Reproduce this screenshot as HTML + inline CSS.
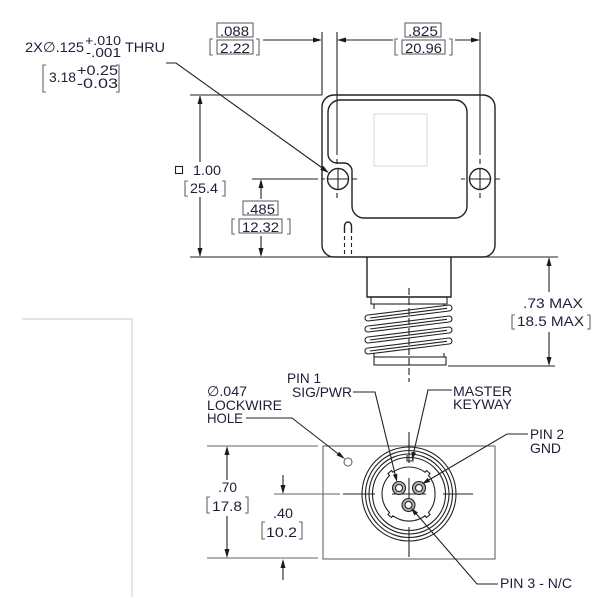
<!DOCTYPE html>
<html>
<head>
<meta charset="utf-8">
<style>
  html,body{margin:0;padding:0;background:#fff;}
  svg{display:block;}
  text{font-family:"Liberation Sans",Arial,sans-serif;font-size:14px;fill:#1c1f38;}
  .s{font-size:12.5px;}
  .ln{stroke:#222;stroke-width:1.4;fill:none;}
  .th{stroke:#222;stroke-width:1.1;fill:none;}
  .gr{stroke:#666;stroke-width:1.1;fill:none;}
  .lg{stroke:#d4d4d4;stroke-width:1.2;fill:none;}
  .ar{fill:#1a1a1a;stroke:none;}
  .bx{stroke:#555;stroke-width:1;fill:none;}
</style>
</head>
<body>
<svg width="611" height="600" viewBox="0 0 611 600" xmlns="http://www.w3.org/2000/svg">

<!-- faint left frame -->
<path class="lg" d="M22,319 H132 V597"/>

<!-- ===== TOP-LEFT HOLE CALLOUT ===== -->
<text x="25" y="52" textLength="59" lengthAdjust="spacingAndGlyphs">2X∅.125</text>
<text class="s" x="85" y="45" textLength="36" lengthAdjust="spacingAndGlyphs">+.010</text>
<text class="s" x="86" y="57" textLength="35" lengthAdjust="spacingAndGlyphs">-.001</text>
<text x="125" y="52" textLength="40" lengthAdjust="spacingAndGlyphs">THRU</text>
<path class="gr" d="M46,65 H43 V92 H46 M116,65 H119 V92 H116"/>
<text x="49" y="82" textLength="27" lengthAdjust="spacingAndGlyphs">3.18</text>
<text x="77" y="75" textLength="41" lengthAdjust="spacingAndGlyphs">+0.25</text>
<text x="77" y="88" textLength="41" lengthAdjust="spacingAndGlyphs">-0.03</text>
<!-- leader to hole -->
<path class="th" d="M166,63 H176 L323,168.5"/>
<polygon class="ar" points="329,173 320.2,169.7 323.2,165.7"/>

<!-- ===== TOP DIMENSIONS ===== -->
<rect class="bx" x="217" y="23" width="36" height="14"/>
<text x="220" y="36" textLength="29" lengthAdjust="spacingAndGlyphs">.088</text>
<path class="gr" d="M213,39 H210 V55 H213 M256,39 H259 V55 H256"/>
<rect class="bx" x="217" y="40" width="36" height="14"/>
<text x="220" y="53" textLength="30" lengthAdjust="spacingAndGlyphs">2.22</text>

<rect class="bx" x="405" y="23" width="36" height="14"/>
<text x="408" y="36" textLength="30" lengthAdjust="spacingAndGlyphs">.825</text>
<path class="gr" d="M398,39 H395 V55 H398 M449,39 H452 V55 H449"/>
<rect class="bx" x="402" y="40" width="43" height="14"/>
<text x="405" y="53" textLength="37" lengthAdjust="spacingAndGlyphs">20.96</text>

<path class="th" d="M263,40 H320 M339,40 H393 M455,40 H478"/>
<polygon class="ar" points="322,40 313,37.5 313,42.5"/>
<polygon class="ar" points="337,40 346,37.5 346,42.5"/>
<polygon class="ar" points="480,40 471,37.5 471,42.5"/>
<!-- extension lines -->
<path class="th" d="M322,32 V95 M337,32 V155 M480,32 V155"/>

<!-- ===== BODY (top view) ===== -->
<path class="th" d="M190,95 H322 M190,257 H558"/>
<rect class="ln" x="322" y="95" width="173" height="162" rx="12" ry="12"/>
<path class="ln" d="M328,112 A12,12 0 0 1 340,100 H455 A12,12 0 0 1 467,112 V206 A12,12 0 0 1 455,218 H364 A12,12 0 0 1 352,206 V171 A8,8 0 0 0 344,163 H337 A9,9 0 0 1 328,154 Z"/>
<rect x="374" y="114" width="53" height="52" fill="none" stroke="#d8d8d8" stroke-width="1"/>

<!-- holes -->
<circle class="ln" cx="338" cy="179" r="10.5"/>
<path class="th" d="M328,179 H348 M338,169 V189"/>
<circle class="ln" cx="480" cy="179" r="10.5"/>
<path class="th" d="M470,179 H490 M480,169 V189"/>
<!-- center dashes -->
<path class="th" d="M337,159 V164 M337,193 V198 M321,179 H325 M352,179 H357 M480,159 V164 M480,193 V198 M461,179 H465 M495,179 H500"/>

<!-- slot -->
<path class="ln" d="M344.5,233 V226 A3.5,4 0 0 1 351.5,226 V233"/>
<path class="th" stroke-dasharray="4,3" d="M344.5,236 V257 M351.5,236 V257"/>

<!-- 1.00 dimension -->
<path class="th" d="M200,97 V162 M200,197 V255"/>
<polygon class="ar" points="200,95 197.5,104 202.5,104"/>
<polygon class="ar" points="200,257 197.5,248 202.5,248"/>
<rect x="175.5" y="166.5" width="7" height="7" fill="none" stroke="#222" stroke-width="1.1"/>
<text x="193" y="175" textLength="28" lengthAdjust="spacingAndGlyphs">1.00</text>
<path class="gr" d="M188,181 H185 V196 H188 M222,181 H225 V196 H222"/>
<text x="190" y="193" textLength="28" lengthAdjust="spacingAndGlyphs">25.4</text>

<!-- .485 dimension -->
<path class="th" d="M252,179 H318"/>
<path class="th" d="M261,181 V199 M261,236 V255"/>
<polygon class="ar" points="261,179 258.5,188 263.5,188"/>
<polygon class="ar" points="261,257 258.5,248 263.5,248"/>
<rect class="bx" x="243" y="201" width="35" height="14"/>
<text x="246" y="214" textLength="29" lengthAdjust="spacingAndGlyphs">.485</text>
<path class="gr" d="M235,219 H232 V234 H235 M287,219 H290 V234 H287"/>
<rect class="bx" x="239" y="219" width="43" height="14"/>
<text x="242" y="232" textLength="37" lengthAdjust="spacingAndGlyphs">12.32</text>

<!-- ===== CONNECTOR SIDE VIEW ===== -->
<path class="ln" d="M367,257 V297 H451 V257"/>
<rect class="th" x="371" y="297" width="76" height="7"/>
<path class="th" d="M374,304 V309 M444,304 V309 M374,353 V357 M444,353 V357"/>
<rect class="th" x="374" y="357" width="72" height="8"/>
<g fill="#fff" stroke="#222" stroke-width="1.1">
  <path d="M368,315 L449,305 A3,3 0 0 1 449,311 L368,321 A3,3 0 0 1 368,315 Z"/>
  <path d="M368,326 L449,316 A3,3 0 0 1 449,322 L368,332 A3,3 0 0 1 368,326 Z"/>
  <path d="M368,337 L449,327 A3,3 0 0 1 449,333 L368,343 A3,3 0 0 1 368,337 Z"/>
  <path d="M368,348 L449,338 A3,3 0 0 1 449,344 L368,354 A3,3 0 0 1 368,348 Z"/>
</g>
<path class="th" stroke-width="0.8" d="M370,318 L447,308.3 M370,329 L447,319.3 M370,340 L447,330.3 M370,351 L447,341.3"/>
<path class="th" stroke-dasharray="7,3" d="M409,288 V382"/>

<!-- .73 MAX dimension -->
<path class="th" d="M448,366 H555"/>
<path class="th" d="M549,259 V292 M549,332 V364"/>
<polygon class="ar" points="549,257 546.5,266 551.5,266"/>
<polygon class="ar" points="549,366 546.5,357 551.5,357"/>
<text x="523" y="308" textLength="60" lengthAdjust="spacingAndGlyphs">.73 MAX</text>
<path class="gr" d="M515,315 H512 V329 H515 M587,315 H590 V329 H587"/>
<text x="517" y="326" textLength="67" lengthAdjust="spacingAndGlyphs">18.5 MAX</text>

<!-- ===== BOTTOM (face) VIEW ===== -->
<rect class="gr" x="323" y="446" width="172" height="113"/>
<path class="gr" d="M207,446 H318 M207,558 H318 M274,494 H340"/>

<!-- .70 -->
<path class="th" d="M227,448 V480 M227,516 V556"/>
<polygon class="ar" points="227,446 224.5,455 229.5,455"/>
<polygon class="ar" points="227,558 224.5,549 229.5,549"/>
<text x="218" y="492" textLength="19" lengthAdjust="spacingAndGlyphs">.70</text>
<path class="gr" d="M210,497 H207 V513 H210 M245,497 H248 V513 H245"/>
<text x="212" y="511" textLength="30" lengthAdjust="spacingAndGlyphs">17.8</text>

<!-- .40 -->
<path class="th" d="M283,475 V492 M283,561 V580"/>
<polygon class="ar" points="283,494 280.5,485 285.5,485"/>
<polygon class="ar" points="283,559 280.5,568 285.5,568"/>
<text x="273" y="518" textLength="20" lengthAdjust="spacingAndGlyphs">.40</text>
<path class="gr" d="M265,522 H262 V539 H265 M299,522 H302 V539 H299"/>
<text x="266" y="537" textLength="31" lengthAdjust="spacingAndGlyphs">10.2</text>

<!-- lockwire hole -->
<circle class="gr" cx="348" cy="462" r="4"/>

<!-- connector face -->
<g class="th" stroke-width="1.2">
  <circle cx="409" cy="494" r="47"/>
  <circle cx="409" cy="494" r="43.5"/>
  <circle cx="409" cy="494" r="40"/>
  <circle cx="409" cy="494" r="36.5"/>
  <path d="M409,467 A27,27 0 0 1 425,472.2 L426.5,470.5 L430,473.5 L428.5,475.5 A27,27 0 0 1 435,494 A27,27 0 0 1 428.5,512.5 L430,514.5 L426.5,517.5 L425,515.8 A27,27 0 0 1 393,515.8 L391.5,517.5 L388,514.5 L389.5,512.5 A27,27 0 0 1 382,494 A27,27 0 0 1 389.5,475.5 L388,473.5 L391.5,470.5 L393,472.2 A27,27 0 0 1 409,467 Z"/>
  <path d="M407,455 V461 H413 V455"/>
</g>
<path class="th" d="M409,432 V463 M409,527 V557 M343,494 H375 M443,494 H473 M409,478 V512 M392,494 H426"/>
<!-- pins -->
<g stroke="#222" stroke-width="1.1">
  <circle cx="399" cy="488" r="6.5" fill="#b0b0b0"/>
  <circle cx="399" cy="488" r="3.5" fill="#fff"/>
  <circle cx="419" cy="488" r="6.5" fill="#b0b0b0"/>
  <circle cx="419" cy="488" r="3.5" fill="#fff"/>
  <circle cx="408.5" cy="505" r="6.5" fill="#b0b0b0"/>
  <circle cx="408.5" cy="505" r="3.5" fill="#fff"/>
</g>

<!-- labels -->
<text x="207" y="396" textLength="40" lengthAdjust="spacingAndGlyphs">∅.047</text>
<text x="207" y="410" textLength="75" lengthAdjust="spacingAndGlyphs">LOCKWIRE</text>
<text x="207" y="423" textLength="36" lengthAdjust="spacingAndGlyphs">HOLE</text>
<path class="th" d="M246,418 H292 L339,454.5"/>
<polygon class="ar" points="345,459 336.5,455.3 339.3,451.7"/>

<text x="287" y="383" textLength="34" lengthAdjust="spacingAndGlyphs">PIN 1</text>
<text x="292" y="397" textLength="60" lengthAdjust="spacingAndGlyphs">SIG/PWR</text>
<path class="th" d="M353,392 H375 L395.3,475"/>
<polygon class="ar" points="397,482 392.9,474.8 397.3,473.7"/>

<text x="453" y="396" textLength="59" lengthAdjust="spacingAndGlyphs">MASTER</text>
<text x="453" y="409" textLength="59" lengthAdjust="spacingAndGlyphs">KEYWAY</text>
<path class="th" d="M452,390 H428 L413.6,453"/>
<polygon class="ar" points="412,460 416,452.7 411.6,451.7"/>

<text x="530" y="439" textLength="34" lengthAdjust="spacingAndGlyphs">PIN 2</text>
<text x="530" y="453" textLength="31" lengthAdjust="spacingAndGlyphs">GND</text>
<path class="th" d="M528,434 H507 L428,480.5"/>
<polygon class="ar" points="422,484 430.1,481.9 427.7,477.9"/>

<text x="500" y="588" textLength="72" lengthAdjust="spacingAndGlyphs">PIN 3 - N/C</text>
<path class="th" d="M498,584 H477 L416,513.5"/>
<polygon class="ar" points="411,508 417.9,512.5 414.5,515.5"/>

</svg>
</body>
</html>
